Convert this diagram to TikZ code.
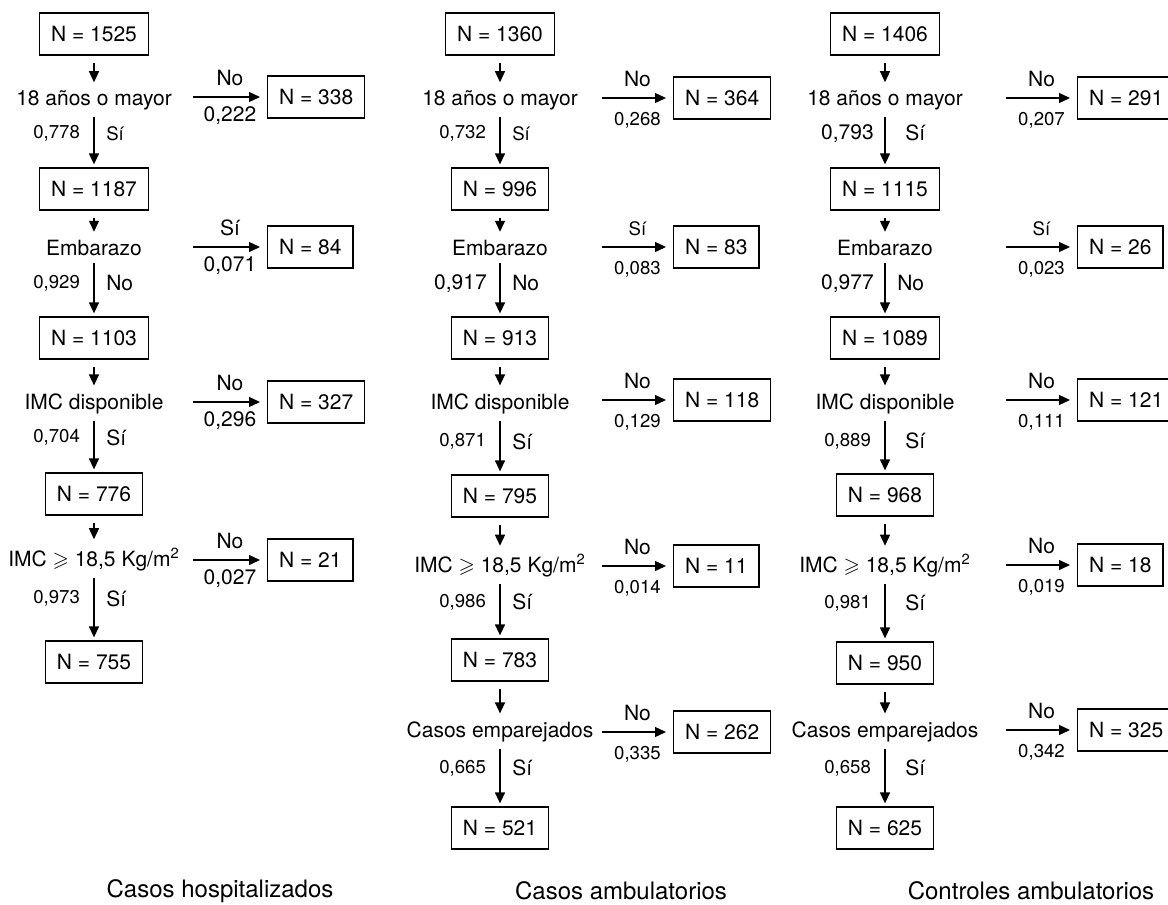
\documentclass[tikz,border=0pt]{standalone}
\usepackage{fontspec}
\setmainfont{TeX Gyre Heros}
\usepackage{amssymb}
\usetikzlibrary{arrows.meta}

\begin{document}
\begin{tikzpicture}[
    x=0.5pt, y=-0.5pt,
    font={\fontsize{10.5}{12.6}\selectfont},
    base/.style={draw,line width=0.65pt,rectangle,minimum height=21pt,inner xsep=5.7pt,inner ysep=0pt},
    outbox/.style={base,anchor=west},
    cond/.style={inner sep=0pt,anchor=base},
    sml/.style={font={\fontsize{9.3}{11}\selectfont}},
    foot/.style={font={\fontsize{12}{14}\selectfont}},
    arr/.style={line width=0.65pt,-{Triangle[length=5.5pt,width=5pt]}},
    stub/.style={arr,shorten <=3.5pt,shorten >=4pt},
    down/.style={arr,shorten <=3.5pt,shorten >=1.5pt},
    side/.style={arr,shorten >=3.5pt},
]
    \useasboundingbox (0,0) rectangle (1168,905);

    % Casos hospitalizados
    \node[base] at (94,34) (hospAll) {N = 1525};
    \node[cond] at (94,105.5) (hospAge) {18 años o mayor};
    \draw[stub](hospAll) -- (hospAge);
    \coordinate (hospAgeFrom) at (193,97);
    \node[outbox] at (267,97) (hospAgeOut) {N = 338};
    \draw[side](hospAgeFrom) -- (hospAgeOut) node[midway,above=1.7pt] {No} node[midway,below=1.2pt] {0,222};

    \node[base] at (94,189) (hospAdult) {N = 1187};
    \draw[down](hospAge) -- (hospAdult) node[pos=.4,left=3.4pt,sml] {0,778} node[pos=.4,right=2.5pt,sml] {Sí};
    \node[cond] at (94,255.5) (hospPreg) {Embarazo};
    \draw[stub](hospAdult) -- (hospPreg);
    \coordinate (hospPregFrom) at (193,247);
    \node[outbox] at (267,247) (hospPregOut) {N = 84};
    \draw[side](hospPregFrom) -- (hospPregOut) node[midway,above=1.7pt] {Sí} node[midway,below=1.2pt] {0,071};

    \node[base] at (94,338) (hospNoPreg) {N = 1103};
    \draw[down](hospPreg) -- (hospNoPreg) node[pos=.45,left=3.4pt,sml] {0,929} node[pos=.45,right=2.5pt] {No};
    \node[cond] at (94,409.5) (hospImc) {IMC disponible};
    \draw[stub](hospNoPreg) -- (hospImc);
    \coordinate (hospImcFrom) at (193,402);
    \node[outbox] at (267,402) (hospImcOut) {N = 327};
    \draw[side](hospImcFrom) -- (hospImcOut) node[midway,above=1.7pt] {No} node[midway,below=1.2pt] {0,296};

    \node[base] at (94,494) (hospImcOk) {N = 776};
    \draw[down](hospImc) -- (hospImcOk) node[pos=.4,left=3.4pt,sml] {0,704} node[pos=.4,right=2.5pt] {Sí};
    \node[cond] at (94,566) (hospLow) {IMC $\geqslant$ 18,5 Kg/m\textsuperscript{2}};
    \draw[stub](hospImcOk) -- (hospLow);
    \coordinate (hospLowFrom) at (193,560);
    \node[outbox] at (267,560) (hospLowOut) {N = 21};
    \draw[side](hospLowFrom) -- (hospLowOut) node[midway,above=1.7pt] {No} node[midway,below=1.2pt] {0,027};

    \node[base] at (94,662) (hospFinal) {N = 755};
    \draw[down](hospLow) -- (hospFinal) node[pos=.4,left=3.4pt,sml] {0,973} node[pos=.4,right=2.5pt] {Sí};

    \node[foot] at (220,891) (hospTitle) {Casos hospitalizados};


    % Casos ambulatorios
    \node[base] at (500,34) (ambuAll) {N = 1360};
    \node[cond] at (500,105.5) (ambuAge) {18 años o mayor};
    \draw[stub](ambuAll) -- (ambuAge);
    \coordinate (ambuAgeFrom) at (602,98);
    \node[outbox] at (673,98) (ambuAgeOut) {N = 364};
    \draw[side](ambuAgeFrom) -- (ambuAgeOut) node[midway,above=1.7pt] {No} node[midway,below=3.6pt,sml] {0,268};

    \node[base] at (500,189) (ambuAdult) {N = 996};
    \draw[down](ambuAge) -- (ambuAdult) node[pos=.4,left=3.4pt,sml] {0,732} node[pos=.4,right=2.5pt,sml] {Sí};
    \node[cond] at (500,255.5) (ambuPreg) {Embarazo};
    \draw[stub](ambuAdult) -- (ambuPreg);
    \coordinate (ambuPregFrom) at (602,247);
    \node[outbox] at (673,247) (ambuPregOut) {N = 83};
    \draw[side](ambuPregFrom) -- (ambuPregOut) node[midway,above=2pt,sml] {Sí} node[midway,below=3.6pt,sml] {0,083};

    \node[base] at (500,338) (ambuNoPreg) {N = 913};
    \draw[down](ambuPreg) -- (ambuNoPreg) node[pos=.45,left=3pt] {0,917} node[pos=.45,right=2.5pt] {No};
    \node[cond] at (500,409.5) (ambuImc) {IMC disponible};
    \draw[stub](ambuNoPreg) -- (ambuImc);
    \coordinate (ambuImcFrom) at (602,400);
    \node[outbox] at (673,400) (ambuImcOut) {N = 118};
    \draw[side](ambuImcFrom) -- (ambuImcOut) node[midway,above=1.7pt] {No} node[midway,below=3.6pt,sml] {0,129};

    \node[base] at (500,496) (ambuImcOk) {N = 795};
    \draw[down](ambuImc) -- (ambuImcOk) node[pos=.45,left=3.4pt,sml] {0,871} node[pos=.45,right=2.5pt] {Sí};
    \node[cond] at (500,572.5) (ambuLow) {IMC $\geqslant$ 18,5 Kg/m\textsuperscript{2}};
    \draw[stub](ambuImcOk) -- (ambuLow);
    \coordinate (ambuLowFrom) at (602,566);
    \node[outbox] at (673,566) (ambuLowOut) {N = 11};
    \draw[side](ambuLowFrom) -- (ambuLowOut) node[midway,above=1.7pt] {No} node[midway,below=3.6pt,sml] {0,014};

    \node[base] at (500,660) (ambuMatch) {N = 783};
    \draw[down](ambuLow) -- (ambuMatch) node[pos=.4,left=3.4pt,sml] {0,986} node[pos=.4,right=2.5pt] {Sí};
    \node[cond] at (500,737.5) (ambuPair) {Casos emparejados};
    \draw[stub](ambuMatch) -- (ambuPair);
    \coordinate (ambuPairFrom) at (602,732);
    \node[outbox] at (673,732) (ambuPairOut) {N = 262};
    \draw[side](ambuPairFrom) -- (ambuPairOut) node[midway,above=1.7pt] {No} node[midway,below=3.6pt,sml] {0,335};

    \node[base] at (500,828) (ambuFinal) {N = 521};
    \draw[down](ambuPair) -- (ambuFinal) node[pos=.4,left=3.4pt,sml] {0,665} node[pos=.4,right=2.5pt] {Sí};

    \node[foot] at (621,891) (ambuTitle) {Casos ambulatorios};


    % Controles ambulatorios
    \node[base] at (885,34) (ctrlAll) {N = 1406};
    \node[cond] at (885,105.5) (ctrlAge) {18 años o mayor};
    \draw[stub](ctrlAll) -- (ctrlAge);
    \coordinate (ctrlAgeFrom) at (1006,98);
    \node[outbox] at (1077,98) (ctrlAgeOut) {N = 291};
    \draw[side](ctrlAgeFrom) -- (ctrlAgeOut) node[midway,above=1.7pt] {No} node[midway,below=3.6pt,sml] {0,207};

    \node[base] at (885,189) (ctrlAdult) {N = 1115};
    \draw[down](ctrlAge) -- (ctrlAdult) node[pos=.4,left=2pt] {0,793} node[pos=.4,right=6.5pt] {Sí};
    \node[cond] at (885,255.5) (ctrlPreg) {Embarazo};
    \draw[stub](ctrlAdult) -- (ctrlPreg);
    \coordinate (ctrlPregFrom) at (1006,247);
    \node[outbox] at (1077,247) (ctrlPregOut) {N = 26};
    \draw[side](ctrlPregFrom) -- (ctrlPregOut) node[midway,above=2pt,sml] {Sí} node[midway,below=3.6pt,sml] {0,023};

    \node[base] at (885,338) (ctrlNoPreg) {N = 1089};
    \draw[down](ctrlPreg) -- (ctrlNoPreg) node[pos=.45,left=2pt] {0,977} node[pos=.45,right=2.5pt] {No};
    \node[cond] at (885,409.5) (ctrlImc) {IMC disponible};
    \draw[stub](ctrlNoPreg) -- (ctrlImc);
    \coordinate (ctrlImcFrom) at (1006,400);
    \node[outbox] at (1077,400) (ctrlImcOut) {N = 121};
    \draw[side](ctrlImcFrom) -- (ctrlImcOut) node[midway,above=1.7pt] {No} node[midway,below=3.6pt,sml] {0,111};

    \node[base] at (885,495) (ctrlImcOk) {N = 968};
    \draw[down](ctrlImc) -- (ctrlImcOk) node[pos=.45,left=3.4pt,sml] {0,889} node[pos=.45,right=6.5pt] {Sí};
    \node[cond] at (885,572.5) (ctrlLow) {IMC $\geqslant$ 18,5 Kg/m\textsuperscript{2}};
    \draw[stub](ctrlImcOk) -- (ctrlLow);
    \coordinate (ctrlLowFrom) at (1006,565);
    \node[outbox] at (1077,565) (ctrlLowOut) {N = 18};
    \draw[side](ctrlLowFrom) -- (ctrlLowOut) node[midway,above=1.7pt] {No} node[midway,below=3.6pt,sml] {0,019};

    \node[base] at (885,663) (ctrlMatch) {N = 950};
    \draw[down](ctrlLow) -- (ctrlMatch) node[pos=.4,left=3.4pt,sml] {0,981} node[pos=.4,right=6.5pt] {Sí};
    \node[cond] at (885,737.5) (ctrlPair) {Casos emparejados};
    \draw[stub](ctrlMatch) -- (ctrlPair);
    \coordinate (ctrlPairFrom) at (1006,730);
    \node[outbox] at (1077,730) (ctrlPairOut) {N = 325};
    \draw[side](ctrlPairFrom) -- (ctrlPairOut) node[midway,above=1.7pt] {No} node[midway,below=3.6pt,sml] {0,342};

    \node[base] at (885,828) (ctrlFinal) {N = 625};
    \draw[down](ctrlPair) -- (ctrlFinal) node[pos=.4,left=3.4pt,sml] {0,658} node[pos=.4,right=6.5pt] {Sí};

    \node[foot] at (1031,891) (ctrlTitle) {Controles ambulatorios};

\end{tikzpicture}
\end{document}
